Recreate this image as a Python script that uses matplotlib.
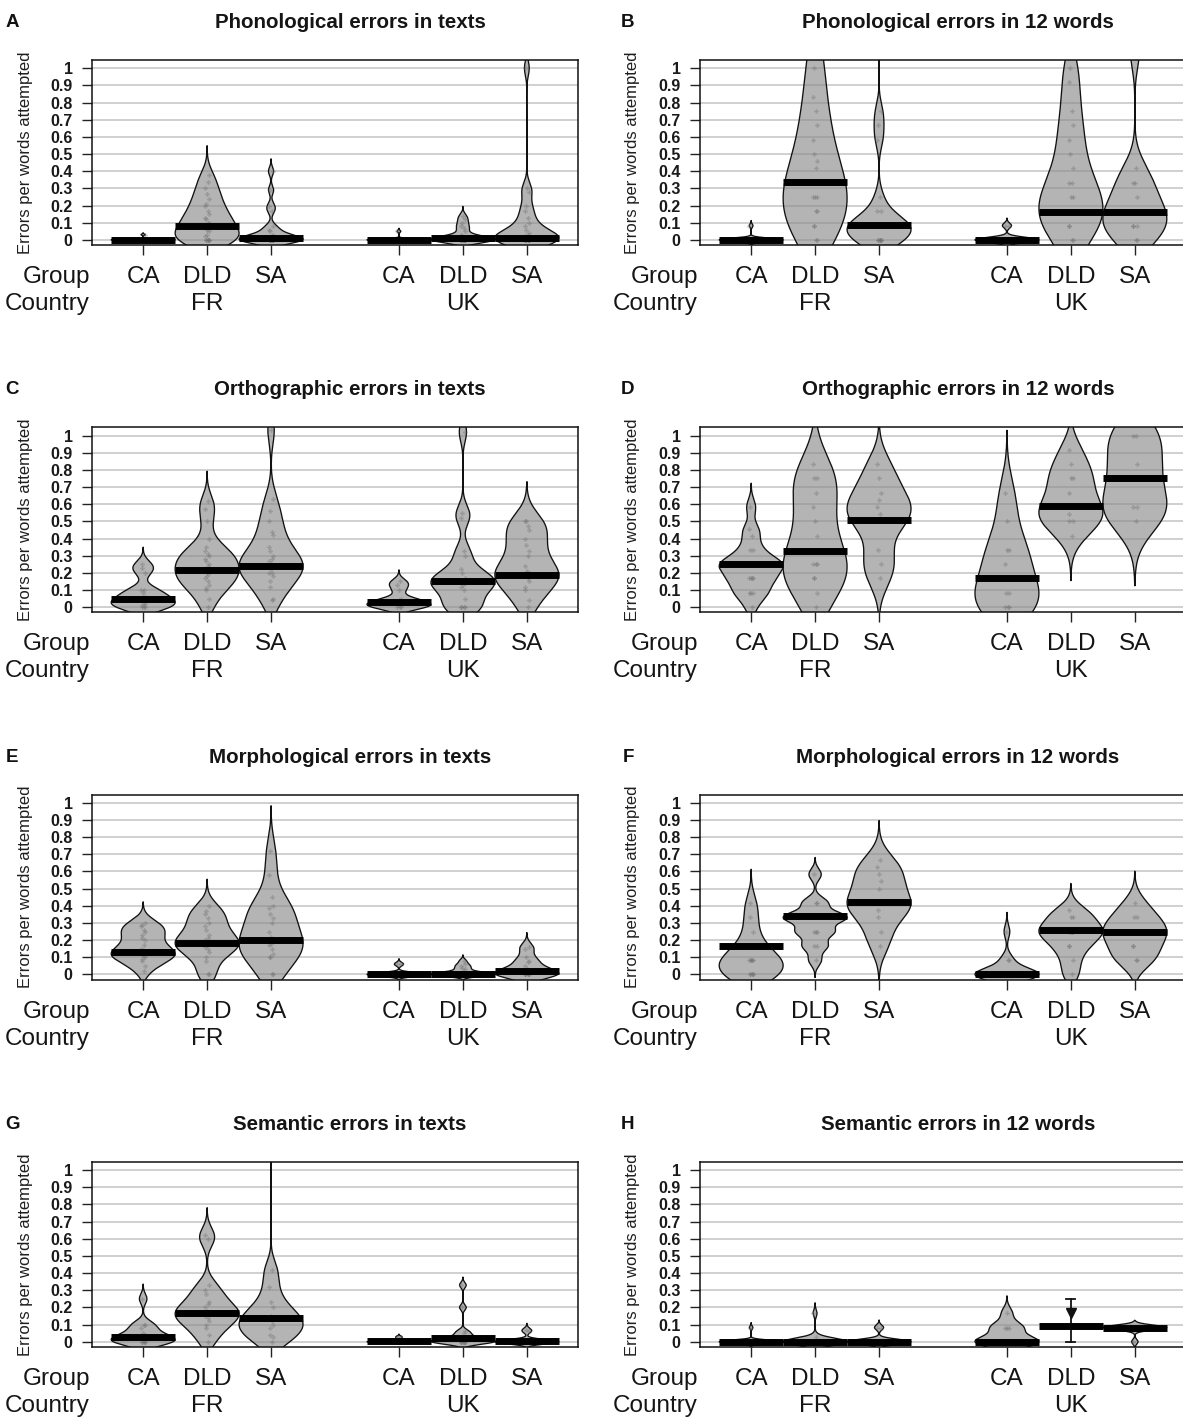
import numpy as np
import matplotlib
matplotlib.use("Agg")
import matplotlib.pyplot as plt
import matplotlib.transforms as mtransforms

plt.rcParams['font.family'] = ['Liberation Sans', 'DejaVu Sans']

# ---------------- labels ----------------
countries = ["FR", "UK"]
groups = ["CA", "DLD", "SA"]
letters = ["A", "B", "C", "D", "E", "F", "G", "H"]
titles = ["Phonological errors in texts", "Phonological errors in 12 words",
          "Orthographic errors in texts", "Orthographic errors in 12 words",
          "Morphological errors in texts", "Morphological errors in 12 words",
          "Semantic errors in texts", "Semantic errors in 12 words"]
y_label = "Errors per words attempted"
y_ticks = [0, 0.1, 0.2, 0.3, 0.4, 0.5, 0.6, 0.7, 0.8, 0.9, 1.0]
y_tick_labels = ["0", "0.1", "0.2", "0.3", "0.4", "0.5", "0.6", "0.7", "0.8", "0.9", "1"]

# ---------------- data (order: FR CA, FR DLD, FR SA, UK CA, UK DLD, UK SA) ----------------
phon_texts = [
    [0, 0, 0, 0, 0, 0, 0, 0, 0, 0, 0, 0, 0, 0, 0, 0.03],
    [0, 0, 0, 0, 0, 0, 0.02, 0.03, 0.05, 0.06, 0.08, 0.1, 0.1, 0.12, 0.13, 0.15, 0.17, 0.2, 0.21, 0.24, 0.27, 0.3, 0.34, 0.38],
    [0, 0, 0, 0, 0, 0, 0, 0, 0, 0, 0.01, 0.02, 0.03, 0.05, 0.06, 0.08, 0.17, 0.2, 0.29, 0.4],
    [0, 0, 0, 0, 0, 0, 0, 0, 0, 0, 0, 0, 0, 0, 0, 0, 0, 0.05],
    [0, 0, 0, 0, 0, 0, 0, 0, 0, 0, 0, 0, 0.01, 0.02, 0.03, 0.05, 0.07, 0.08, 0.1, 0.12, 0.14],
    [0, 0, 0, 0, 0, 0, 0, 0, 0, 0.01, 0.02, 0.03, 0.04, 0.06, 0.08, 0.1, 0.13, 0.17, 0.2, 0.28, 0.3, 1.0],
]
phon_texts_avg = [0.0, 0.08, 0.01, 0.0, 0.01, 0.01]

phon_words = [
    [0, 0, 0, 0, 0, 0, 0, 0, 0, 0, 0, 0, 0, 0, 0, 0, 0, 0.083],
    [0, 0, 0.083, 0.083, 0.167, 0.167, 0.25, 0.25, 0.25, 0.333, 0.333, 0.417, 0.458, 0.5, 0.583, 0.667, 0.75, 0.833, 1.0, 1.1],
    [0, 0, 0, 0, 0, 0, 0.083, 0.083, 0.083, 0.083, 0.083, 0.083, 0.083, 0.083, 0.167, 0.167, 0.25, 0.583, 0.667, 0.75, 1.6],
    [0, 0, 0, 0, 0, 0, 0, 0, 0, 0, 0, 0, 0, 0, 0.083, 0.083],
    [0, 0, 0.083, 0.083, 0.167, 0.167, 0.167, 0.167, 0.25, 0.25, 0.333, 0.333, 0.417, 0.5, 0.583, 0.667, 0.75, 0.917, 1.0],
    [0, 0, 0.083, 0.083, 0.083, 0.167, 0.167, 0.167, 0.25, 0.333, 0.333, 0.417, 1.1],
]
phon_words_avg = [0.0, 0.34, 0.085, 0.0, 0.165, 0.165]

orth_texts = [
    [0, 0, 0, 0.01, 0.02, 0.03, 0.04, 0.05, 0.06, 0.08, 0.1, 0.1, 0.2, 0.23, 0.25],
    [0, 0.05, 0.1, 0.11, 0.13, 0.15, 0.17, 0.18, 0.2, 0.2, 0.22, 0.24, 0.25, 0.27, 0.28, 0.3, 0.31, 0.33, 0.35, 0.4, 0.5, 0.57, 0.62],
    [0.04, 0.05, 0.12, 0.15, 0.18, 0.2, 0.2, 0.22, 0.24, 0.25, 0.27, 0.28, 0.3, 0.33, 0.35, 0.42, 0.44, 0.5, 0.56, 0.63, 1.03],
    [0, 0, 0, 0.01, 0.02, 0.02, 0.03, 0.04, 0.05, 0.1, 0.13, 0.15],
    [0, 0, 0, 0, 0.05, 0.1, 0.12, 0.13, 0.14, 0.15, 0.15, 0.16, 0.17, 0.2, 0.22, 0.3, 0.33, 0.52, 0.55, 1.02],
    [0, 0.04, 0.1, 0.12, 0.15, 0.17, 0.19, 0.2, 0.2, 0.21, 0.24, 0.3, 0.33, 0.36, 0.4, 0.45, 0.47, 0.5, 0.5],
]
orth_texts_avg = [0.05, 0.215, 0.24, 0.03, 0.15, 0.19]

orth_words = [
    [0, 0.083, 0.083, 0.083, 0.167, 0.167, 0.167, 0.167, 0.25, 0.25, 0.25, 0.25, 0.25, 0.25, 0.333, 0.333, 0.417, 0.458, 0.583],
    [0, 0.083, 0.167, 0.167, 0.25, 0.25, 0.25, 0.333, 0.417, 0.5, 0.583, 0.667, 0.75, 0.75, 0.833],
    [0.167, 0.25, 0.333, 0.5, 0.5, 0.542, 0.583, 0.625, 0.667, 0.75, 0.833],
    [0, 0, 0, 0.083, 0.083, 0.167, 0.25, 0.333, 0.333, 0.5, 0.667],
    [0.417, 0.5, 0.5, 0.542, 0.583, 0.583, 0.667, 0.75, 0.75, 0.833, 0.917],
    [0.5, 0.583, 0.583, 0.75, 0.833, 1.0, 1.0],
]
orth_words_avg = [0.25, 0.33, 0.505, 0.17, 0.59, 0.75]

morph_texts = [
    [0.02, 0.05, 0.08, 0.09, 0.1, 0.11, 0.12, 0.12, 0.13, 0.14, 0.15, 0.17, 0.2, 0.21, 0.23, 0.25, 0.26, 0.28, 0.29, 0.3],
    [0, 0, 0.08, 0.1, 0.13, 0.15, 0.16, 0.17, 0.18, 0.19, 0.2, 0.21, 0.23, 0.26, 0.28, 0.3, 0.33, 0.35, 0.37, 0.4],
    [0, 0, 0.1, 0.1, 0.12, 0.15, 0.17, 0.18, 0.2, 0.22, 0.25, 0.3, 0.33, 0.35, 0.39, 0.4, 0.45, 0.58, 0.72],
    [0, 0, 0, 0, 0, 0, 0, 0, 0, 0, 0, 0, 0, 0, 0.06, 0.06],
    [0, 0, 0, 0, 0, 0, 0, 0, 0, 0, 0.01, 0.02, 0.03, 0.04, 0.05, 0.06, 0.08],
    [0, 0, 0, 0, 0, 0, 0, 0.01, 0.02, 0.03, 0.05, 0.07, 0.08, 0.1, 0.15, 0.16],
]
morph_texts_avg = [0.13, 0.185, 0.2, 0.005, 0.005, 0.02]

morph_words = [
    [0, 0, 0, 0, 0, 0.083, 0.083, 0.083, 0.083, 0.083, 0.167, 0.167, 0.25, 0.333, 0.417],
    [0.083, 0.167, 0.167, 0.25, 0.25, 0.25, 0.333, 0.333, 0.333, 0.333, 0.333, 0.417, 0.417, 0.583],
    [0.167, 0.25, 0.333, 0.375, 0.417, 0.417, 0.417, 0.5, 0.542, 0.583, 0.625, 0.667],
    [0, 0, 0, 0, 0, 0, 0, 0, 0, 0, 0, 0.083, 0.083, 0.25],
    [0, 0.083, 0.167, 0.167, 0.25, 0.25, 0.25, 0.25, 0.333, 0.333, 0.375],
    [0.083, 0.083, 0.167, 0.167, 0.25, 0.25, 0.25, 0.333, 0.333, 0.417],
]
morph_words_avg = [0.165, 0.34, 0.42, 0.005, 0.26, 0.25]

sem_texts = [
    [0, 0, 0, 0, 0, 0.01, 0.02, 0.03, 0.04, 0.05, 0.08, 0.1, 0.1, 0.25],
    [0, 0.04, 0.08, 0.1, 0.12, 0.14, 0.15, 0.16, 0.17, 0.18, 0.2, 0.22, 0.23, 0.28, 0.3, 0.33, 0.6, 0.62],
    [0, 0.03, 0.04, 0.08, 0.1, 0.12, 0.13, 0.15, 0.2, 0.23, 0.32, 0.42, 1.6],
    [0, 0, 0, 0, 0, 0, 0, 0, 0, 0, 0, 0, 0.02, 0.03],
    [0, 0, 0, 0, 0, 0, 0, 0, 0.01, 0.02, 0.03, 0.05, 0.06, 0.2, 0.33],
    [0, 0, 0, 0, 0, 0, 0, 0, 0, 0, 0, 0, 0.06, 0.07],
]
sem_texts_avg = [0.03, 0.165, 0.14, 0.005, 0.02, 0.005]

sem_words = [
    [0, 0, 0, 0, 0, 0, 0, 0, 0, 0, 0, 0, 0, 0, 0, 0, 0, 0, 0.083],
    [0, 0, 0, 0, 0, 0, 0, 0, 0, 0, 0, 0, 0, 0, 0, 0, 0.03, 0.167],
    [0, 0, 0, 0, 0, 0, 0, 0, 0, 0, 0, 0, 0, 0, 0.083, 0.083],
    [0, 0, 0, 0, 0, 0, 0.083, 0.083, 0.083, 0.167],
    [0.167],
    [0.083, 0.083, 0.083, 0.083, 0.083, 0.083, 0.083, 0.083, 0.083, 0.083, 0],
]
sem_words_avg = [0.0, 0.0, 0.0, 0.0, 0.09, 0.08]
sem_words_band = [None, None, None, None, (0.0, 0.25), None]

panel_data = [phon_texts, phon_words, orth_texts, orth_words,
              morph_texts, morph_words, sem_texts, sem_words]
panel_avg = [phon_texts_avg, phon_words_avg, orth_texts_avg, orth_words_avg,
             morph_texts_avg, morph_words_avg, sem_texts_avg, sem_words_avg]
panel_band = [None] * 7 + [sem_words_band]


# ---------------- helpers ----------------
def bw_nrd0(x):
    x = np.asarray(x, float)
    n = len(x)
    hi = np.std(x, ddof=1)
    q75, q25 = np.percentile(x, [75, 25])
    lo = min(hi, (q75 - q25) / 1.34)
    if lo == 0:
        lo = hi if hi > 0 else (abs(x[0]) if x[0] != 0 else 1.0)
    return 0.9 * lo * n ** (-0.2)


BEAN_W = 0.5


def draw_bean(ax, pos, vals):
    v = np.asarray(vals, float)
    bw = bw_nrd0(v)
    y = np.linspace(v.min() - 3 * bw, v.max() + 3 * bw, 1500)
    d = np.exp(-0.5 * ((y[:, None] - v[None, :]) / bw) ** 2).sum(axis=1)
    w = d / d.max() * BEAN_W
    xs = np.concatenate([pos - w, (pos + w)[::-1]])
    ys = np.concatenate([y, y[::-1]])
    ax.fill(xs, ys, facecolor='#8a8a8a', alpha=0.64, edgecolor='none', zorder=2)
    ax.plot(xs, ys, color='#111111', lw=0.95, zorder=2.2)


W, H = 1183, 1419
fig = plt.figure(figsize=(W / 100, H / 100), dpi=100)

AX_W, AX_H = 486, 185
positions = [1 + gi + 4 * ci for ci in range(len(countries)) for gi in range(len(groups))]

for idx in range(8):
    r, c = divmod(idx, 2)
    left_px = 92 + 608 * c
    top_px = 60 + 367.3 * r
    ax = fig.add_axes([left_px / W, 1 - (top_px + AX_H) / H, AX_W / W, AX_H / H])
    ax.set_xlim(0.2, 7.8)
    ax.set_ylim(-0.03, 1.048)
    for t in y_ticks:
        ax.axhline(t, color='#c4c4c4', lw=1.1, zorder=0.5)

    vals_list = panel_data[idx]
    avgs = panel_avg[idx]
    bands = panel_band[idx]
    for k, pos in enumerate(positions):
        vals = vals_list[k]
        band = bands[k] if bands is not None else None
        n = len(vals)
        jit = 0.035 * np.sin(1.7 * np.arange(n) + 0.5)
        if band is None:
            draw_bean(ax, pos, vals)
            ax.plot(pos + jit, vals, linestyle='none', marker='P', ms=3.4,
                    color='#6e6e6e', alpha=0.4, mew=0, zorder=3)
        else:
            ax.plot([pos, pos], [band[0], band[1]], color='#111111', lw=1.3, zorder=3)
            for b in band:
                ax.plot([pos - 0.07, pos + 0.07], [b, b], color='#111111', lw=1.3, zorder=3)
            ax.plot(np.full(n, pos), vals, linestyle='none', marker='v', ms=6.5,
                    color='#111111', zorder=3)
        ax.plot([pos - BEAN_W, pos + BEAN_W], [avgs[k], avgs[k]], color='black',
                lw=5, solid_capstyle='butt', zorder=4)

    ax.set_yticks(y_ticks)
    ax.set_yticklabels(y_tick_labels, fontsize=11.5, color='#1a1a1a', fontweight='bold')
    ax.set_xticks(positions)
    ax.set_xticklabels([])
    ax.tick_params(axis='both', direction='out', length=7, width=1.0,
                   color='#222222', pad=7)
    for s in ax.spines.values():
        s.set_linewidth(1.1)
        s.set_color('#111111')

    tr = mtransforms.blended_transform_factory(ax.transData, ax.transAxes)
    for k, pos in enumerate(positions):
        ax.text(pos, -38 / AX_H, groups[k % 3], transform=tr, ha='center',
                va='baseline', fontsize=17.5, color='#151515')
    for ci, country in enumerate(countries):
        ax.text(positions[ci * 3 + 1], -65 / AX_H, country, transform=tr,
                ha='center', va='baseline', fontsize=17.5, color='#151515')
    ax.text(-2 / AX_W, -38 / AX_H, "Group", transform=ax.transAxes, ha='right',
            va='baseline', fontsize=17.5, color='#151515')
    ax.text(-2 / AX_W, -65 / AX_H, "Country", transform=ax.transAxes, ha='right',
            va='baseline', fontsize=17.5, color='#151515')
    ax.text(-67 / AX_W, 0.5, y_label, transform=ax.transAxes, rotation=90,
            ha='center', va='center', fontsize=12, color='#1e1e1e')
    ax.text(0.5 + 15 / AX_W, 1 + 32 / AX_H, titles[idx], transform=ax.transAxes,
            ha='center', va='baseline', fontsize=14.8, fontweight='bold', color='#151515')
    letter_x = (12 - 92) if c == 0 else (628 - 700)
    ax.text(letter_x / AX_W, 1 + 33 / AX_H, letters[idx], transform=ax.transAxes,
            ha='center', va='baseline', fontsize=13.5, fontweight='bold', color='#111111')

fig.savefig("out.png", dpi=100)
